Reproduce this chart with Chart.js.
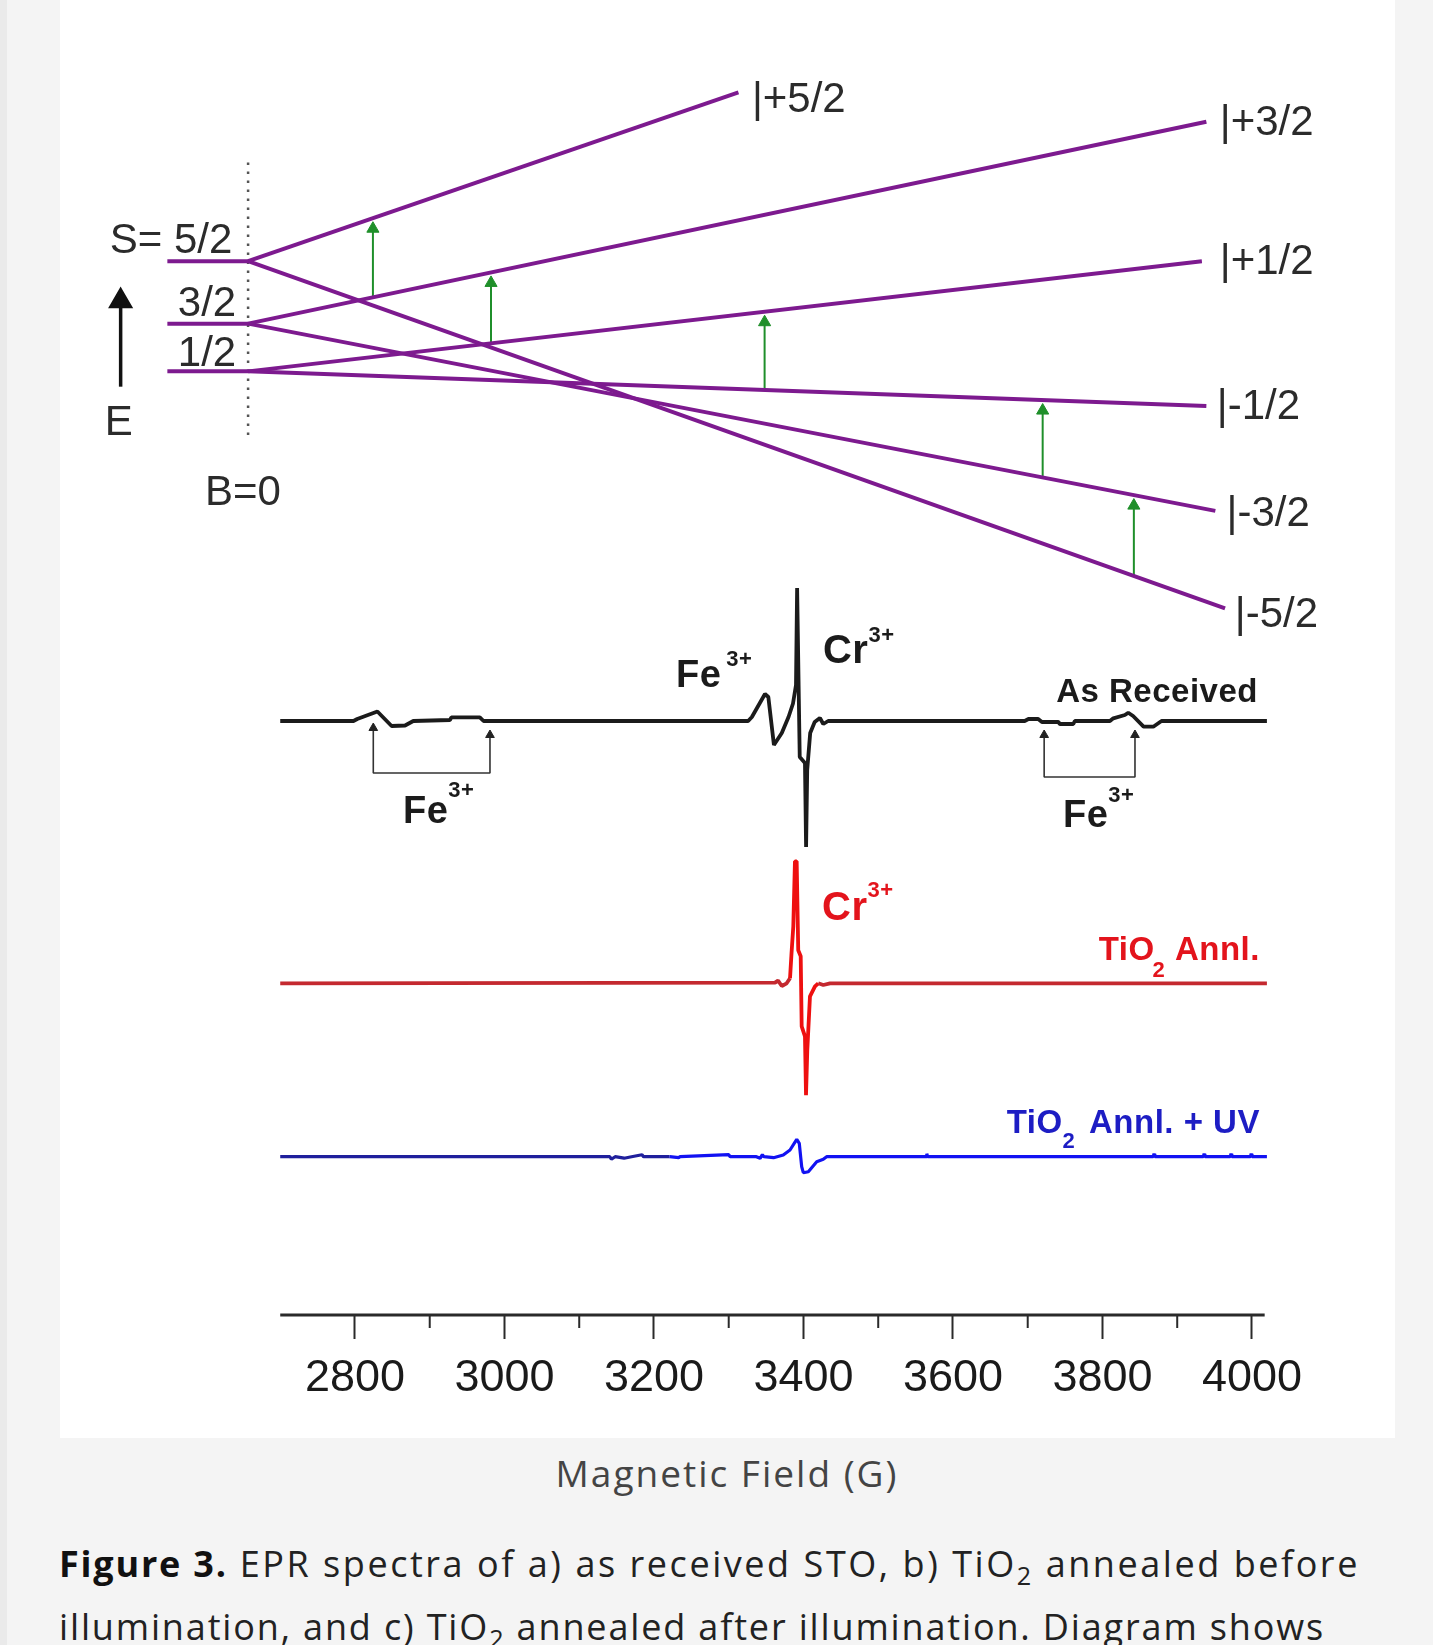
<!DOCTYPE html>
<html>
<head>
<meta charset="utf-8">
<script src="https://cdn.jsdelivr.net/npm/chart.js@4.4.1/dist/chart.umd.min.js"></script>
<style>
  html, body { margin: 0; padding: 0; }
  body { width: 1433px; height: 1645px; background: #f4f4f4; position: relative; overflow: hidden; font-family: 'Open Sans', Lato, sans-serif; }
  .edge { position: absolute; left: 0; top: 0; width: 7px; height: 1645px; background: #eaeaea; }
  .figure { position: absolute; left: 60px; top: 0; width: 1335px; height: 1438px; background: #fff; }
  #chart { position: absolute; left: 0; top: 0; }
  .xlabel { position: absolute; left: 327px; top: 1451px; width: 800px; text-align: center; font-size: 37px; line-height: 44px; letter-spacing: 2px; color: #444; }
  .caption { position: absolute; left: 59px; top: 1532px; font-size: 36px; line-height: 63px; color: #222; white-space: nowrap; }
  .caption .l1 { letter-spacing: 2.55px; }
  .caption .l2 { letter-spacing: 1.85px; }
  .caption b { color: #111; font-weight: 700; letter-spacing: 1.8px; }
  .caption sub { font-size: 0.7em; line-height: 0; vertical-align: -0.3em; }
</style>
</head>
<body>
<div class="edge"></div>
<div class="figure"></div>
<canvas id="chart" width="1433" height="1438"></canvas>
<div class="xlabel">Magnetic Field (G)</div>
<div class="caption"><span class="l1"><b>Figure 3.</b> EPR spectra of a) as received STO, b) TiO<sub>2</sub> annealed before</span><br><span class="l2">illumination, and c) TiO<sub>2</sub> annealed after illumination. Diagram shows</span></div>
<script>
// field axis (G)
const majorTicks = [2800, 3000, 3200, 3400, 3600, 3800, 4000];
const minorTicks = [2900, 3100, 3300, 3500, 3700, 3900];
const axisSpan = [2700, 4017];

// zero-field splitting diagram, energy in arbitrary units
const zeroField = 2657;
const levelStart = 2549;
const spinLevels = ['5/2', '3/2', '1/2'];
const spinEnergy = [10.5, 4.55, 0];
const msLabels = ['+5/2', '+3/2', '+1/2', '-1/2', '-3/2', '-5/2'];
const msParent = [0, 1, 2, 2, 1, 0];
const msEndField = [3313, 3939, 3933, 3939, 3951, 3964];
const msEndEnergy = [26.6, 23.8, 10.5, -3.3, -13.3, -22.6];
const transField = [2824, 2982, 3348, 3720, 3842];
const transFrom = [1, 2, 3, 4, 5];
const transTo = [0, 1, 2, 3, 4];

// EPR derivative spectra (a.u.), each on its own baseline
const asRecField = [2700, 2798, 2803, 2830, 2849, 2867, 2878, 2927, 2929, 2967, 2972, 3326, 3331, 3348.5, 3353, 3360.5, 3371, 3380, 3386, 3390, 3391.5, 3395, 3402, 3403.5, 3405, 3409, 3415, 3422, 3426.5, 3433, 3696, 3701, 3714, 3719, 3741, 3743, 3761, 3763, 3810, 3814.5, 3830, 3834.5, 3841, 3855, 3868, 3879, 4020];
const asRecSignal = [0, 0, 0.2, 0.95, -0.5, -0.45, 0, 0.1, 0.37, 0.37, 0, 0, 0.4, 2.7, 2.4, -2.4, -1.2, 0.4, 1.75, 3.6, 13.3, -3.6, -4.2, -12.6, -4.9, -1.2, -0.1, 0.3, -0.3, 0, 0, 0.2, 0.2, -0.1, -0.1, -0.3, -0.3, 0, 0, 0.27, 0.6, 0.83, 0.5, -0.57, -0.57, 0, 0];
const annField = [2700, 3362, 3366, 3371, 3377.5, 3382, 3384, 3386.4, 3388.6, 3390.9, 3393, 3396.3, 3397.6, 3402, 3403.4, 3405.1, 3408.7, 3415.4, 3419.8, 3426.5, 3435.5, 4020];
const annSignal = [0, 0.06, 0.26, -0.27, 0, 0.5, 3.0, 5.7, 12.2, 12.2, 3.3, 2.7, -4.3, -5.3, -11.2, -6.7, -1.3, -0.3, 0, -0.17, 0, 0];
const uvField = [2700, 3141, 3143, 3148, 3160, 3170, 3184, 3186, 3221, 3233, 3235, 3300, 3302, 3337, 3342, 3345, 3347, 3360, 3373, 3382, 3391, 3394.4, 3397.6, 3399.8, 3406.5, 3417.7, 3426.5, 3431, 3564, 3565, 3566, 3868, 3869, 3870, 3935, 3936, 3937, 3971, 3972, 3973, 3998, 3999, 4000, 4020];
const uvSignal = [0, 0, -0.26, 0, -0.15, 0, 0.2, 0, 0, -0.1, 0, 0.2, 0, 0, -0.16, 0.2, 0, -0.1, 0.17, 0.67, 1.74, 1.34, -1.0, -1.6, -1.5, -0.5, -0.26, 0, 0, 0.3, 0, 0, 0.3, 0, 0, 0.3, 0, 0, 0.3, 0, 0, 0.3, 0, 0];
const asRecBase = 59.4;
const annBase = 33.17;
const uvBase = 15.83;

// Fe3+ marker brackets under the as-received trace
const feBracketFields = [[2824.5, 2980.6], [3722, 3843.5]];
const feBracketLevel = [54.2, 53.8];
const feArrowTip = [[59.2, 58.5], [58.5, 58.5]];

const FONT = "'Liberation Sans', Arial, sans-serif";
const purple = '#7d1a8f';
const green = '#1f8f2a';
const ink = '#1b1b1b';
const redDark = '#c4292f', redBright = '#ee1010';
const blueDark = '#1f1f9c', blueBright = '#1212f2';

function levelAt(i, f) {
	let e0 = spinEnergy[msParent[i]];
	let t = (f - zeroField) / (msEndField[i] - zeroField);
	return e0 + t * (msEndEnergy[i] - e0);
}

function trace(fields, signal, base) {
	return fields.map((f, i) => ({ x: f, y: base + signal[i] }));
}

let datasets = [];

// spectra
datasets.push({ data: trace(asRecField, asRecSignal, asRecBase), yAxisID: 'y', borderColor: ink, borderWidth: 3.8 });
datasets.push({
	data: trace(annField, annSignal, annBase), yAxisID: 'y', borderColor: redDark, borderWidth: 3.8,
	segment: { borderColor: (c) => (c.p0.parsed.x >= 3380 && c.p1.parsed.x <= 3420 ? redBright : redDark) },
});
datasets.push({
	data: trace(uvField, uvSignal, uvBase), yAxisID: 'y', borderColor: blueBright, borderWidth: 3.2,
	segment: { borderColor: (c) => (c.p1.parsed.x <= 3225 ? blueDark : blueBright) },
});

// Fe3+ brackets
feBracketFields.forEach((pair, k) => {
	datasets.push({
		yAxisID: 'y',
		data: [
			{ x: pair[0], y: feArrowTip[k][0] - 0.5 },
			{ x: pair[0], y: feBracketLevel[k] },
			{ x: pair[1], y: feBracketLevel[k] },
			{ x: pair[1], y: feArrowTip[k][1] - 0.5 },
		],
		borderColor: '#333', borderWidth: 1.6,
		pointRadius: [5, 0, 0, 5], pointStyle: 'triangle',
		pointBackgroundColor: '#222', pointBorderColor: '#222', pointBorderWidth: 1,
	});
});

// axis baseline
datasets.push({ yAxisID: 'y', data: [{ x: axisSpan[0], y: 0 }, { x: axisSpan[1], y: 0 }], borderColor: '#2a2a2a', borderWidth: 3 });

// energy levels at B=0
spinEnergy.forEach((e) => {
	datasets.push({ yAxisID: 'yE', data: [{ x: levelStart, y: e }, { x: zeroField, y: e }], borderColor: purple, borderWidth: 4 });
});
// ms branches
msLabels.forEach((m, i) => {
	datasets.push({
		yAxisID: 'yE',
		data: [{ x: zeroField, y: spinEnergy[msParent[i]] }, { x: msEndField[i], y: msEndEnergy[i] }],
		borderColor: purple, borderWidth: 4,
	});
});
// allowed transitions
transField.forEach((f, k) => {
	datasets.push({
		yAxisID: 'yE',
		data: [{ x: f, y: levelAt(transFrom[k], f) }, { x: f, y: levelAt(transTo[k], f) - 1.0 }],
		borderColor: green, borderWidth: 2,
		pointRadius: [0, 7], pointStyle: 'triangle',
		pointBackgroundColor: green, pointBorderColor: green, pointBorderWidth: 1,
	});
});
// B = 0 dotted marker
datasets.push({ yAxisID: 'yE', data: [{ x: zeroField, y: 19.9 }, { x: zeroField, y: -6.6 }], borderColor: '#555', borderWidth: 2.5, borderDash: [2.5, 6.5] });
// energy arrow
datasets.push({
	yAxisID: 'yE', data: [{ x: 2486.5, y: -1.46 }, { x: 2486.5, y: 6.7 }],
	borderColor: '#111', borderWidth: 3.5,
	pointRadius: [0, 11], pointStyle: 'triangle', pointBackgroundColor: '#111', pointBorderColor: '#111',
});

datasets.forEach((d) => {
	d.clip = false;
	if (d.pointRadius === undefined) d.pointRadius = 0;
	d.fill = false;
	d.tension = 0;
	d.borderJoinStyle = 'bevel';
});

// text annotations
const diagramLabels = [
	['|' + msLabels[0], 3331, 25.8, 'left'],
	['|' + msLabels[1], 3957, 23.6, 'left'],
	['|' + msLabels[2], 3957, 10.4, 'left'],
	['|' + msLabels[3], 3953, -3.4, 'left'],
	['|' + msLabels[4], 3966, -13.6, 'left'],
	['|' + msLabels[5], 3977, -23.3, 'left'],
	['S= ' + spinLevels[0], 2472, 12.4, 'left'],
	[spinLevels[1], 2563, 6.4, 'left'],
	[spinLevels[2], 2563, 1.6, 'left'],
	['E', 2484, -5.0, 'center'],
	['B=0', 2650, -11.6, 'center'],
];
const redInk = '#e3141c', blueInk = '#1d1dc4';
const spectrumLabels = [
	{ at: [3229.4, 62.8], color: ink, align: 'left', parts: [['Fe', 38], ['3+', 22, 5, -21]] },
	{ at: [3426.1, 65.2], color: ink, align: 'left', parts: [['Cr', 40], ['3+', 22, 0, -21]] },
	{ at: [2864.2, 49.2], color: ink, align: 'left', parts: [['Fe', 38], ['3+', 22, 0, -26]] },
	{ at: [3747.2, 48.8], color: ink, align: 'left', parts: [['Fe', 38], ['3+', 22, 0, -25]] },
	{ at: [4008, 61.3], color: ink, align: 'right', parts: [['As Received', 33]] },
	{ at: [3424.8, 39.5], color: redInk, align: 'left', parts: [['Cr', 40], ['3+', 22, 0, -23]] },
	{ at: [4010.7, 35.5], color: redInk, align: 'right', parts: [['TiO', 33], ['2', 22, -2, 17], [' Annl.', 33]] },
	{ at: [4010.7, 18.2], color: blueInk, align: 'right', parts: [['TiO', 33], ['2', 22, 0, 15], [' Annl. + UV', 33, 4]] },
];

function drawRich(ctx, px, py, parts, align) {
	let widths = parts.map((p) => {
		ctx.font = `bold ${p[1]}px ${FONT}`;
		return ctx.measureText(p[0]).width + (p[2] || 0);
	});
	let total = widths.reduce((a, b) => a + b, 0);
	let cx = align === 'right' ? px - total : px;
	parts.forEach((p, i) => {
		ctx.font = `bold ${p[1]}px ${FONT}`;
		cx += p[2] || 0;
		ctx.fillText(p[0], cx, py + (p[3] || 0));
		cx += widths[i] - (p[2] || 0);
	});
}

const annotate = {
	id: 'annotate',
	afterDraw(chart) {
		const { ctx, chartArea } = chart;
		const x = chart.scales.x, y = chart.scales.y, yE = chart.scales.yE;
		ctx.save();
		// minor ticks
		ctx.strokeStyle = '#2a2a2a';
		ctx.lineWidth = 2;
		minorTicks.forEach((v) => {
			let px = x.getPixelForValue(v);
			ctx.beginPath();
			ctx.moveTo(px, chartArea.bottom);
			ctx.lineTo(px, chartArea.bottom + 13);
			ctx.stroke();
		});
		// diagram labels
		ctx.fillStyle = '#2b2b2b';
		ctx.textBaseline = 'middle';
		ctx.font = `42px ${FONT}`;
		diagramLabels.forEach((l) => {
			ctx.textAlign = l[3];
			ctx.fillText(l[0], x.getPixelForValue(l[1]), yE.getPixelForValue(l[2]));
		});
		// spectrum labels
		ctx.textBaseline = 'alphabetic';
		ctx.textAlign = 'left';
		if ('letterSpacing' in ctx) ctx.letterSpacing = '0.5px';
		spectrumLabels.forEach((l) => {
			ctx.fillStyle = l.color;
			drawRich(ctx, x.getPixelForValue(l.at[0]), y.getPixelForValue(l.at[1]), l.parts, l.align);
		});
		ctx.restore();
	},
};

new Chart(document.getElementById('chart'), {
	type: 'line',
	data: { datasets: datasets },
	options: {
		responsive: false,
		animation: false,
		events: [],
		layout: { padding: 0, autoPadding: false },
		plugins: { legend: { display: false }, tooltip: { enabled: false } },
		scales: {
			x: {
				type: 'linear',
				min: 2325.1,
				max: 4242.2,
				position: 'bottom',
				afterBuildTicks: (s) => {
					s.ticks = majorTicks.map((v) => ({ value: v }));
				},
				afterFit: (s) => {
					s.height = 123;
				},
				border: { display: false },
				grid: { drawOnChartArea: false, drawTicks: true, tickLength: 24, tickWidth: 2, tickColor: '#2a2a2a' },
				ticks: {
					padding: 13,
					color: '#1a1a1a',
					font: { family: FONT, size: 45 },
					maxRotation: 0,
					autoSkip: false,
					callback: (v) => String(v),
				},
			},
			y: { type: 'linear', min: 0, max: 131.5, display: false },
			yE: { type: 'linear', min: -89.95, max: 35.4, display: false },
		},
	},
	plugins: [annotate],
});
</script>
</body>
</html>
